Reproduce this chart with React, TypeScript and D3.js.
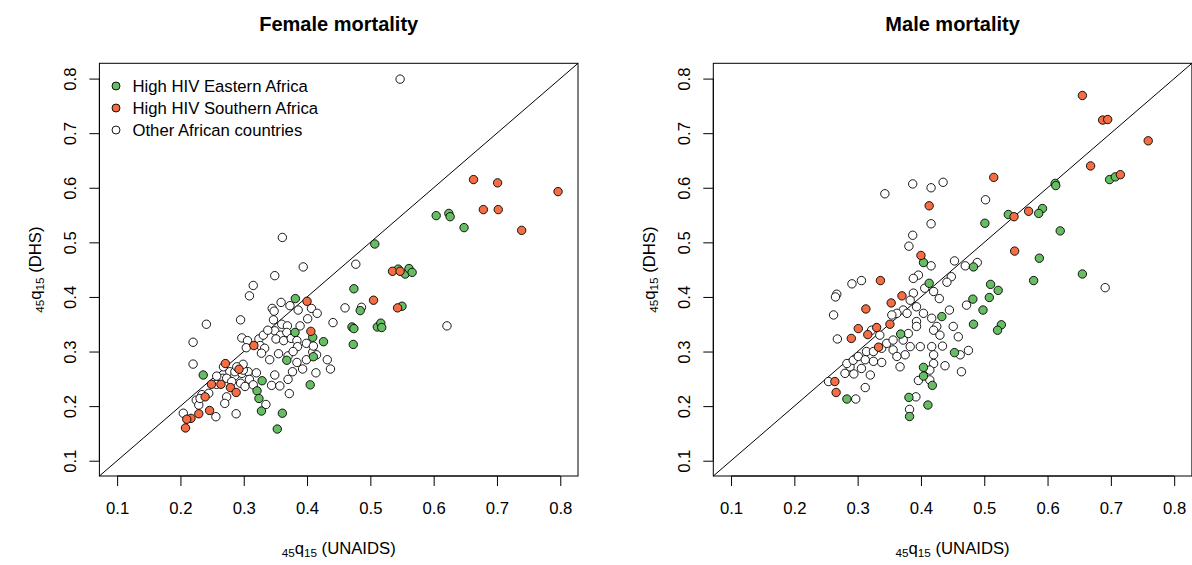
import React, { useEffect, useRef } from 'react';
import * as d3 from 'd3';

type Pt = [number, number];

// 45q15 values: [UNAIDS, DHS]
const femaleEast: Pt[] = [
  [0.507, 0.497], [0.474, 0.415], [0.604, 0.549], [0.624, 0.553], [0.626, 0.547], [0.648, 0.527],
  [0.544, 0.451], [0.555, 0.442], [0.561, 0.452], [0.566, 0.445], [0.484, 0.375], [0.55, 0.383],
  [0.471, 0.345], [0.474, 0.342], [0.511, 0.345], [0.5165, 0.352], [0.518, 0.344], [0.473, 0.313],
  [0.3815, 0.397], [0.381, 0.335], [0.409, 0.326], [0.426, 0.318], [0.368, 0.284], [0.41, 0.2905],
  [0.405, 0.239], [0.329, 0.2465], [0.321, 0.228], [0.324, 0.214], [0.328, 0.191], [0.361, 0.187],
  [0.353, 0.158], [0.236, 0.257]
];

const femaleSouth: Pt[] = [
  [0.663, 0.615], [0.701, 0.609], [0.7965, 0.593], [0.6785, 0.56], [0.702, 0.56], [0.739, 0.522],
  [0.535, 0.447], [0.547, 0.447], [0.505, 0.394], [0.543, 0.38], [0.4, 0.392], [0.406, 0.337],
  [0.316, 0.311], [0.271, 0.278], [0.2925, 0.2675], [0.249, 0.24], [0.264, 0.24], [0.279, 0.234],
  [0.288, 0.225], [0.239, 0.217], [0.246, 0.192], [0.229, 0.186], [0.2167, 0.1776], [0.21, 0.176],
  [0.208, 0.16]
];

const femaleOther: Pt[] = [
  [0.547, 0.799], [0.621, 0.347], [0.486, 0.381],
  [0.361, 0.509], [0.394, 0.455], [0.349, 0.439], [0.315, 0.421], [0.309, 0.402], [0.295, 0.358],
  [0.241, 0.35], [0.22, 0.317], [0.22, 0.277], [0.359, 0.39], [0.345, 0.379], [0.348, 0.374],
  [0.373, 0.384], [0.386, 0.376], [0.407, 0.379], [0.416, 0.37], [0.401, 0.36], [0.441, 0.353],
  [0.46, 0.38], [0.477, 0.46], [0.347, 0.358], [0.36, 0.35], [0.369, 0.347], [0.389, 0.347],
  [0.349, 0.338], [0.358, 0.33], [0.368, 0.335], [0.351, 0.323], [0.363, 0.32], [0.375, 0.324],
  [0.384, 0.32], [0.297, 0.325], [0.306, 0.32], [0.324, 0.323], [0.304, 0.307], [0.326, 0.311],
  [0.333, 0.306], [0.328, 0.297], [0.341, 0.285], [0.355, 0.296], [0.37, 0.292], [0.384, 0.28],
  [0.399, 0.285], [0.409, 0.299], [0.415, 0.294], [0.432, 0.285], [0.437, 0.268], [0.414, 0.261],
  [0.393, 0.268], [0.377, 0.263], [0.37, 0.249], [0.349, 0.257], [0.344, 0.238], [0.357, 0.237],
  [0.372, 0.223], [0.335, 0.203], [0.288, 0.186], [0.268, 0.272], [0.278, 0.263], [0.286, 0.256],
  [0.297, 0.26], [0.307, 0.263], [0.309, 0.249], [0.295, 0.242], [0.302, 0.236], [0.32, 0.261],
  [0.315, 0.239], [0.273, 0.217], [0.27, 0.205], [0.257, 0.24], [0.267, 0.251], [0.234, 0.221],
  [0.225, 0.211], [0.229, 0.202], [0.385, 0.309], [0.378, 0.3], [0.399, 0.315], [0.41, 0.31],
  [0.331, 0.33], [0.338, 0.339], [0.2045, 0.187], [0.231, 0.214], [0.2447, 0.2235], [0.256, 0.1806],
  [0.2573, 0.255], [0.273, 0.251], [0.281, 0.245], [0.286, 0.263], [0.2993, 0.266], [0.299, 0.2766],
  [0.289, 0.272]
];

const maleEast: Pt[] = [
  [0.698, 0.615], [0.707, 0.62], [0.612, 0.608], [0.613, 0.604], [0.592, 0.562], [0.586, 0.553],
  [0.538, 0.551], [0.501, 0.535], [0.62, 0.521], [0.587, 0.471], [0.404, 0.463], [0.483, 0.455],
  [0.655, 0.442], [0.578, 0.43], [0.51, 0.423], [0.522, 0.412], [0.508, 0.399], [0.482, 0.396],
  [0.498, 0.376], [0.483, 0.35], [0.527, 0.349], [0.521, 0.339], [0.433, 0.364], [0.413, 0.425],
  [0.453, 0.298], [0.404, 0.271], [0.404, 0.255], [0.368, 0.332], [0.418, 0.238], [0.381, 0.216],
  [0.411, 0.202], [0.382, 0.181], [0.283, 0.213]
];

const maleSouth: Pt[] = [
  [0.655, 0.769], [0.687, 0.724], [0.695, 0.725], [0.759, 0.686], [0.668, 0.64], [0.715, 0.624],
  [0.515, 0.619], [0.413, 0.567], [0.57, 0.557], [0.547, 0.547], [0.548, 0.484], [0.4, 0.476],
  [0.37, 0.402], [0.336, 0.43], [0.313, 0.378], [0.353, 0.389], [0.301, 0.342], [0.29, 0.324],
  [0.316, 0.331], [0.33, 0.344], [0.351, 0.35], [0.333, 0.308], [0.264, 0.245], [0.266, 0.225]
];

const maleOther: Pt[] = [
  [0.343, 0.589], [0.387, 0.607], [0.416, 0.6], [0.435, 0.61], [0.416, 0.534], [0.387, 0.513],
  [0.381, 0.493], [0.453, 0.466], [0.489, 0.463], [0.502, 0.578], [0.691, 0.417], [0.416, 0.457],
  [0.47, 0.457], [0.472, 0.385], [0.396, 0.44], [0.388, 0.434], [0.448, 0.437], [0.441, 0.427],
  [0.42, 0.41], [0.429, 0.397], [0.406, 0.416], [0.388, 0.407], [0.383, 0.394], [0.372, 0.376],
  [0.378, 0.37], [0.393, 0.355], [0.404, 0.37], [0.417, 0.361], [0.425, 0.346], [0.445, 0.376],
  [0.38, 0.333], [0.393, 0.346], [0.42, 0.339], [0.43, 0.33], [0.451, 0.346], [0.459, 0.327],
  [0.475, 0.302], [0.462, 0.294], [0.434, 0.31], [0.417, 0.309], [0.399, 0.309], [0.383, 0.309],
  [0.372, 0.321], [0.375, 0.294], [0.42, 0.294], [0.42, 0.278], [0.438, 0.274], [0.464, 0.263],
  [0.414, 0.266], [0.393, 0.382], [0.291, 0.424], [0.306, 0.43], [0.267, 0.405], [0.265, 0.4],
  [0.262, 0.367], [0.268, 0.323], [0.254, 0.245], [0.297, 0.213], [0.312, 0.234], [0.32, 0.257],
  [0.28, 0.26], [0.294, 0.259], [0.306, 0.269], [0.288, 0.272], [0.283, 0.278], [0.293, 0.284],
  [0.301, 0.291], [0.312, 0.285], [0.325, 0.282], [0.338, 0.28], [0.314, 0.3], [0.325, 0.3],
  [0.338, 0.306], [0.346, 0.315], [0.356, 0.303], [0.362, 0.291], [0.356, 0.321], [0.362, 0.37],
  [0.354, 0.367], [0.322, 0.339], [0.335, 0.33], [0.367, 0.272], [0.392, 0.217], [0.382, 0.194],
  [0.396, 0.247], [0.414, 0.248]
];

const ticks = [0.1, 0.2, 0.3, 0.4, 0.5, 0.6, 0.7, 0.8];
const legendLabels = ['High HIV Eastern Africa', 'High HIV Southern Africa', 'Other African countries'];
const groupColors = ['#66BD63', '#F46D43', '#FFFFFF'];

const FONT = '"Liberation Sans", Arial, Helvetica, sans-serif';
const W = 1192;
const H = 565;

function drawPanel(svg, opts) {
  const { left, title, east, south, other, legend } = opts;
  const top = 63.3;
  const bottom = 476;
  const width = 478.6;

  const x = d3.scaleLinear().domain([0.072, 0.828]).range([left, left + width]);
  const y = d3.scaleLinear().domain([0.072, 0.828]).range([bottom, top]);

  const g = svg.append('g').style('font-family', FONT);

  // diagonal y = x
  g.append('line')
    .attr('x1', x(0.072)).attr('y1', y(0.072))
    .attr('x2', x(0.828)).attr('y2', y(0.828))
    .attr('stroke', '#000').attr('stroke-width', 1);

  // points: others first, then eastern, then southern
  const groups = [
    { pts: other, color: groupColors[2] },
    { pts: east, color: groupColors[0] },
    { pts: south, color: groupColors[1] }
  ];
  groups.forEach(grp => {
    g.append('g').selectAll('circle')
      .data(grp.pts)
      .enter()
      .append('circle')
      .attr('cx', d => x(d[0]))
      .attr('cy', d => y(d[1]))
      .attr('r', 4.2)
      .attr('fill', grp.color)
      .attr('stroke', '#000')
      .attr('stroke-width', 0.9);
  });

  // box
  g.append('rect')
    .attr('x', left).attr('y', top)
    .attr('width', width).attr('height', bottom - top)
    .attr('fill', 'none').attr('stroke', '#000').attr('stroke-width', 1);

  // x axis
  g.append('g')
    .attr('transform', `translate(0,${bottom})`)
    .call(d3.axisBottom(x).tickValues(ticks).tickSize(10).tickFormat(d3.format('.1f')))
    .call(a => a.select('.domain').attr('d', `M${x(0.1)},0H${x(0.8)}`))
    .call(a => a.selectAll('text')
      .attr('y', 38).attr('dy', null)
      .style('font-size', '16.7px').style('font-family', FONT).attr('fill', '#000'));

  // y axis, labels rotated like R
  g.append('g')
    .attr('transform', `translate(${left},0)`)
    .call(d3.axisLeft(y).tickValues(ticks).tickSize(10).tickFormat(d3.format('.1f')))
    .call(a => a.select('.domain').attr('d', `M0,${y(0.1)}V${y(0.8)}`))
    .call(a => a.selectAll('text')
      .attr('x', null).attr('dy', null)
      .attr('transform', 'translate(-23,0) rotate(-90)')
      .attr('text-anchor', 'middle')
      .style('font-size', '16.7px').style('font-family', FONT).attr('fill', '#000'));

  // title
  g.append('text')
    .attr('x', left + width / 2).attr('y', 31)
    .attr('text-anchor', 'middle')
    .style('font-size', '20px').style('font-weight', 'bold')
    .text(title);

  // axis titles with subscripts
  const subLabel = (sel, rest) => {
    sel.style('font-size', '16.7px').style('white-space', 'pre');
    sel.append('tspan').style('font-size', '11.7px').attr('dy', 3).text('45');
    sel.append('tspan').attr('dy', -3).text('q');
    sel.append('tspan').style('font-size', '11.7px').attr('dy', 3).text('15');
    sel.append('tspan').attr('dy', -3).text(rest);
  };

  g.append('text')
    .attr('x', left + width / 2).attr('y', 554)
    .attr('text-anchor', 'middle')
    .call(subLabel, ' (UNAIDS)');

  g.append('text')
    .attr('transform', `translate(${left - 58},${(top + bottom) / 2}) rotate(-90)`)
    .attr('text-anchor', 'middle')
    .call(subLabel, ' (DHS)');

  if (legend) {
    const lg = g.append('g');
    legendLabels.forEach((label, i) => {
      const cy = 86 + i * 22;
      lg.append('circle')
        .attr('cx', 116).attr('cy', cy).attr('r', 4)
        .attr('fill', groupColors[i]).attr('stroke', '#000').attr('stroke-width', 0.9);
      lg.append('text')
        .attr('x', 132.5).attr('y', cy).attr('dy', '0.36em')
        .style('font-size', '16.7px')
        .text(label);
    });
  }
}

const App = () => {
  const svgRef = useRef(null);

  useEffect(() => {
    const svg = d3.select(svgRef.current);
    svg.selectAll('*').remove();

    svg.append('rect').attr('width', W).attr('height', H).attr('fill', '#fff');

    drawPanel(svg, {
      left: 99.4, title: 'Female mortality',
      east: femaleEast, south: femaleSouth, other: femaleOther, legend: true
    });
    drawPanel(svg, {
      left: 713.3, title: 'Male mortality',
      east: maleEast, south: maleSouth, other: maleOther, legend: false
    });
  }, []);

  return (
    <svg
      ref={svgRef}
      width={W}
      height={H}
      style={{ position: 'absolute', left: 0, top: 0, display: 'block' }}
    />
  );
};

export default App;
